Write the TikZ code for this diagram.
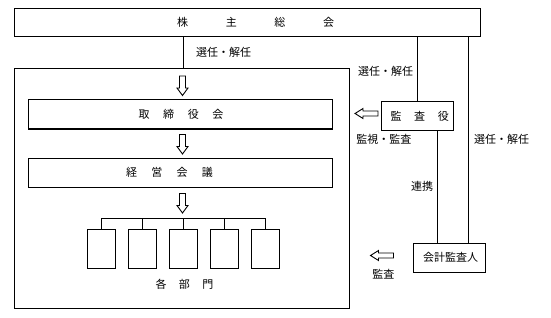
\documentclass[tikz,border=0pt]{standalone}
\usepackage{fontspec}
\setmainfont{Noto Sans CJK JP}
\begin{document}
\begin{tikzpicture}[x=1pt,y=-1pt,
  box/.style={draw,line width=1pt,inner sep=0pt,fill=white},
  lab/.style={inner sep=0pt,font=\fontsize{11}{13}\selectfont},
  ln/.style={line width=1pt},
  downarr/.pic={\draw[line width=0.9pt,fill=white] (-3,0) -- (3,0) -- (3,12) -- (5.5,12) -- (0,19.5) -- (-5.5,12) -- (-3,12) -- cycle;},
  leftarr/.pic={\draw[line width=0.9pt,fill=white] (0,0) -- (8,-5) -- (8,-2.5) -- (23,-2.5) -- (23,2.5) -- (8,2.5) -- (8,5) -- cycle;}
]
\useasboundingbox (0,0) rectangle (551,318);
% boxes
\node[box,minimum width=466pt,minimum height=27.7pt] (top) at (247.4,22.2) {};
\node[lab] (toptxt) at (255.6,22.2) {株\hspace{37.6pt}主\hspace{37.6pt}総\hspace{37.6pt}会};
\node[box,minimum width=335.2pt,minimum height=240pt] (main) at (182,188.1) {};
\node[box,minimum width=304.3pt,minimum height=29pt] (board) at (180.25,114.5) {};
\node[lab] (boardtxt) at (181,114.5) {取\hspace{13.6pt}締\hspace{13.6pt}役\hspace{13.6pt}会};
\node[box,minimum width=304.3pt,minimum height=29pt] (mgmt) at (180.25,172.5) {};
\node[lab] (mgmttxt) at (169.5,172.5) {経\hspace{14.2pt}営\hspace{14.2pt}会\hspace{14.2pt}議};
\foreach \i/\x in {1/101.5,2/142.5,3/183.3,4/224.3,5/265.3}
  \node[box,minimum width=28pt,minimum height=39pt] (d\i) at (\x,248.8) {};
\node[lab] (depttxt) at (184.5,284) {各\hspace{12.5pt}部\hspace{12.5pt}門};
\node[box,minimum width=72pt,minimum height=29pt] (kansa) at (417.3,116.3) {};
\node[lab] (kansatxt) at (419.7,116.3) {監\hspace{12.7pt}査\hspace{12.7pt}役};
\node[box,minimum width=72.4pt,minimum height=29pt] (kaikei) at (449.5,257.8) {};
\node[lab] (kaikeitxt) at (450.5,257.3) {会計監査人};
% helper coordinates
\coordinate (xl) at (183.3,0);
\coordinate (xm) at (437.5,0);
\coordinate (xr) at (468.4,0);
\coordinate (bar) at (0,218.3);
% connectors
\draw[ln] (top.south -| xl) -- (main.north -| xl);
\draw[ln] (top.south -| kansa.north) -- (kansa.north);
\draw[ln] (kansa.south -| xm) -- (kaikei.north -| xm);
\draw[ln] (top.south -| xr) -- (kaikei.north -| xr);
\draw[ln] (d1.north) -- (d1.north |- bar) -- (d5.north |- bar) -- (d5.north);
\foreach \i in {2,3,4} \draw[ln] (d\i.north) -- (d\i.north |- bar);
% block arrows
\pic (a1) at (182.5,76) {downarr};
\pic (a2) at (182.5,134.5) {downarr};
\pic (a3) at (182.5,193.5) {downarr};
\pic (a4) at (355,113.5) {leftarr};
\pic (a5) at (370.5,255.5) {leftarr};
% labels
\node[lab] (l1) at (223.5,52.5) {選任・解任};
\node[lab] (l2) at (385.6,71) {選任・解任};
\node[lab] (l3) at (383.9,139.5) {監視・監査};
\node[lab] (l4) at (422,186.7) {連携};
\node[lab] (l5) at (501.6,139.5) {選任・解任};
\node[lab] (l6) at (383.3,274.5) {監査};
\end{tikzpicture}
\end{document}
